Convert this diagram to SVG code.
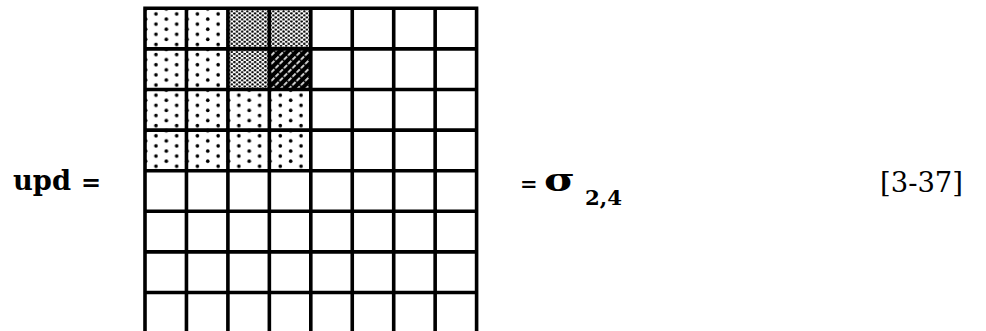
<svg xmlns="http://www.w3.org/2000/svg" width="986" height="331" viewBox="0 0 986 331">
<defs>
<pattern id="sparse" patternUnits="userSpaceOnUse" x="150.78" y="11.46" width="20.725" height="10.15">
<circle cx="5.18" cy="2.54" r="1.8" fill="#000"/>
<circle cx="15.54" cy="7.61" r="1.8" fill="#000"/>
</pattern>
<pattern id="dense" patternUnits="userSpaceOnUse" x="145" y="8.3" width="5.18" height="4.06">
<circle cx="1.3" cy="1.0" r="1.2" fill="#000"/>
<circle cx="3.9" cy="3.03" r="1.2" fill="#000"/>
</pattern>
<pattern id="hatch" patternUnits="userSpaceOnUse" width="6" height="6" patternTransform="rotate(45)">
<rect width="6" height="6" fill="#000"/>
<line x1="3" y1="0" x2="3" y2="6" stroke="#fff" stroke-width="1.6" stroke-dasharray="3.5 1.5"/>
</pattern>
<style>
.g{stroke:#000;stroke-width:3.6;fill:none}
.t{font-family:"DejaVu Serif","Liberation Serif",serif;fill:#000}
</style>
</defs>
<rect width="986" height="331" fill="#fff"/>
<g id="grid">
<rect x="145" y="8.3" width="82.9" height="162.4" fill="url(#sparse)"/>
<rect x="227.9" y="89.5" width="82.9" height="81.2" fill="url(#sparse)"/>
<rect x="227.9" y="8.3" width="82.9" height="40.6" fill="url(#dense)"/>
<rect x="227.9" y="48.9" width="41.45" height="40.6" fill="url(#dense)"/>
<rect x="269.35" y="48.9" width="41.45" height="40.6" fill="url(#hatch)"/>
<path class="g" d="M145 8.3V331M186.45 8.3V331M227.9 8.3V331M269.35 8.3V331M310.8 8.3V331M352.25 8.3V331M393.7 8.3V331M435.15 8.3V331M476.6 8.3V331M143.25 8.3H478.35M145 48.9H476.6M145 89.5H476.6M145 130.1H476.6M145 170.7H476.6M145 211.3H476.6M145 251.9H476.6M145 292.5H476.6"/>
</g>
<g id="lhs">
<text class="t" x="13" y="190" font-size="27" font-weight="bold" textLength="58" lengthAdjust="spacingAndGlyphs">upd</text>
<text class="t" x="81" y="191" font-size="24" font-weight="bold">=</text>
</g>
<g id="rhs">
<text class="t" x="520" y="191" font-size="21" font-weight="bold">=</text>
<text class="t" x="544" y="191" font-size="32" font-weight="bold" textLength="31" lengthAdjust="spacingAndGlyphs">σ</text>
<text class="t" x="585" y="205" font-size="21" font-weight="bold" textLength="37" lengthAdjust="spacingAndGlyphs">2,4</text>
</g>
<g id="eqnum">
<text class="t" x="880" y="192" font-size="27" textLength="83" lengthAdjust="spacingAndGlyphs">[3-37]</text>
</g>
</svg>
